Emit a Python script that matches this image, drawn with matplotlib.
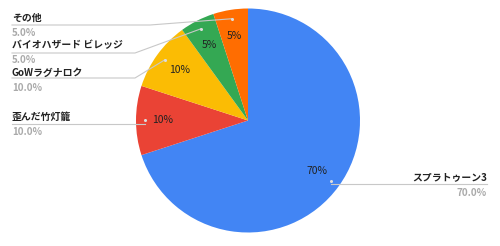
import matplotlib.pyplot as plt
import numpy as np

plt.rcParams['font.family'] = ['Noto Sans CJK JP', 'DejaVu Sans']

# data
games = ['スプラトゥーン3', '歪んだ竹灯籠', 'GoWラグナロク', 'バイオハザード ビレッジ', 'その他']
votes = [70, 10, 10, 5, 5]
colors = ['#4285F4', '#EA4335', '#FBBC04', '#34A853', '#FF6D01']

W, H = 500, 246
fig = plt.figure(figsize=(5.0, 2.46), dpi=100)
ax = fig.add_axes([0, 0, 1, 1])
ax.set_xlim(0, W)
ax.set_ylim(0, H)
ax.set_aspect('equal')
ax.axis('off')

cx, cy, R = 248, H - 120.5, 112

wedges, _, autotexts = ax.pie(votes, colors=colors, startangle=90, counterclock=False,
                              center=(cx, cy), radius=R, autopct='%.0f%%',
                              pctdistance=0.76, frame=True,
                              textprops=dict(fontsize=7.5, color='#222222'))
ax.set_xlim(0, W)
ax.set_ylim(0, H)
ax.axis('off')

total = float(sum(votes))
pcts = [v / total * 100 for v in votes]

# label layout (pixel coords from top): text y, line y, elbow x, side
layout = {
    'スプラトゥーン3': (177, 184, None, 'right'),
    '歪んだ竹灯籠': (117, 124, None, 'left'),
    'GoWラグナロク': (73, 78, 135, 'left'),
    'バイオハザード ビレッジ': (45, 53, 135, 'left'),
    'その他': (18, 25, 150, 'left'),
}

fs = 7.1
line_col = '#c8c8c8'
for w, name, p in zip(wedges, games, pcts):
    mid = np.deg2rad((w.theta1 + w.theta2) / 2)
    px = cx + 0.92 * R * np.cos(mid)
    py = cy + 0.92 * R * np.sin(mid)
    ty, ly, ex, side = layout[name]
    ly = H - ly
    ax.plot([px], [py], marker='o', ms=1.2, color='#dddddd', zorder=5)
    if side == 'left':
        if ex is None:
            xs, ys = [px, 12], [ly, ly]
        else:
            xs, ys = [px, ex, 12], [py, ly, ly]
        ax.plot(xs, ys, color=line_col, lw=0.8, zorder=4)
        ax.text(12, H - ty, name, fontsize=fs, fontweight='bold', color='#222222',
                ha='left', va='center')
        ax.text(12, H - ty - 15, '%.1f%%' % p, fontsize=fs, fontweight='bold',
                color='#aaaaaa', ha='left', va='center')
    else:
        ax.plot([px, 487], [ly, ly], color=line_col, lw=0.8, zorder=4)
        ax.text(487, H - ty, name, fontsize=fs, fontweight='bold', color='#222222',
                ha='right', va='center')
        ax.text(487, H - ty - 16, '%.1f%%' % p, fontsize=fs, fontweight='bold',
                color='#aaaaaa', ha='right', va='center')

fig.savefig('out.png', dpi=100)
